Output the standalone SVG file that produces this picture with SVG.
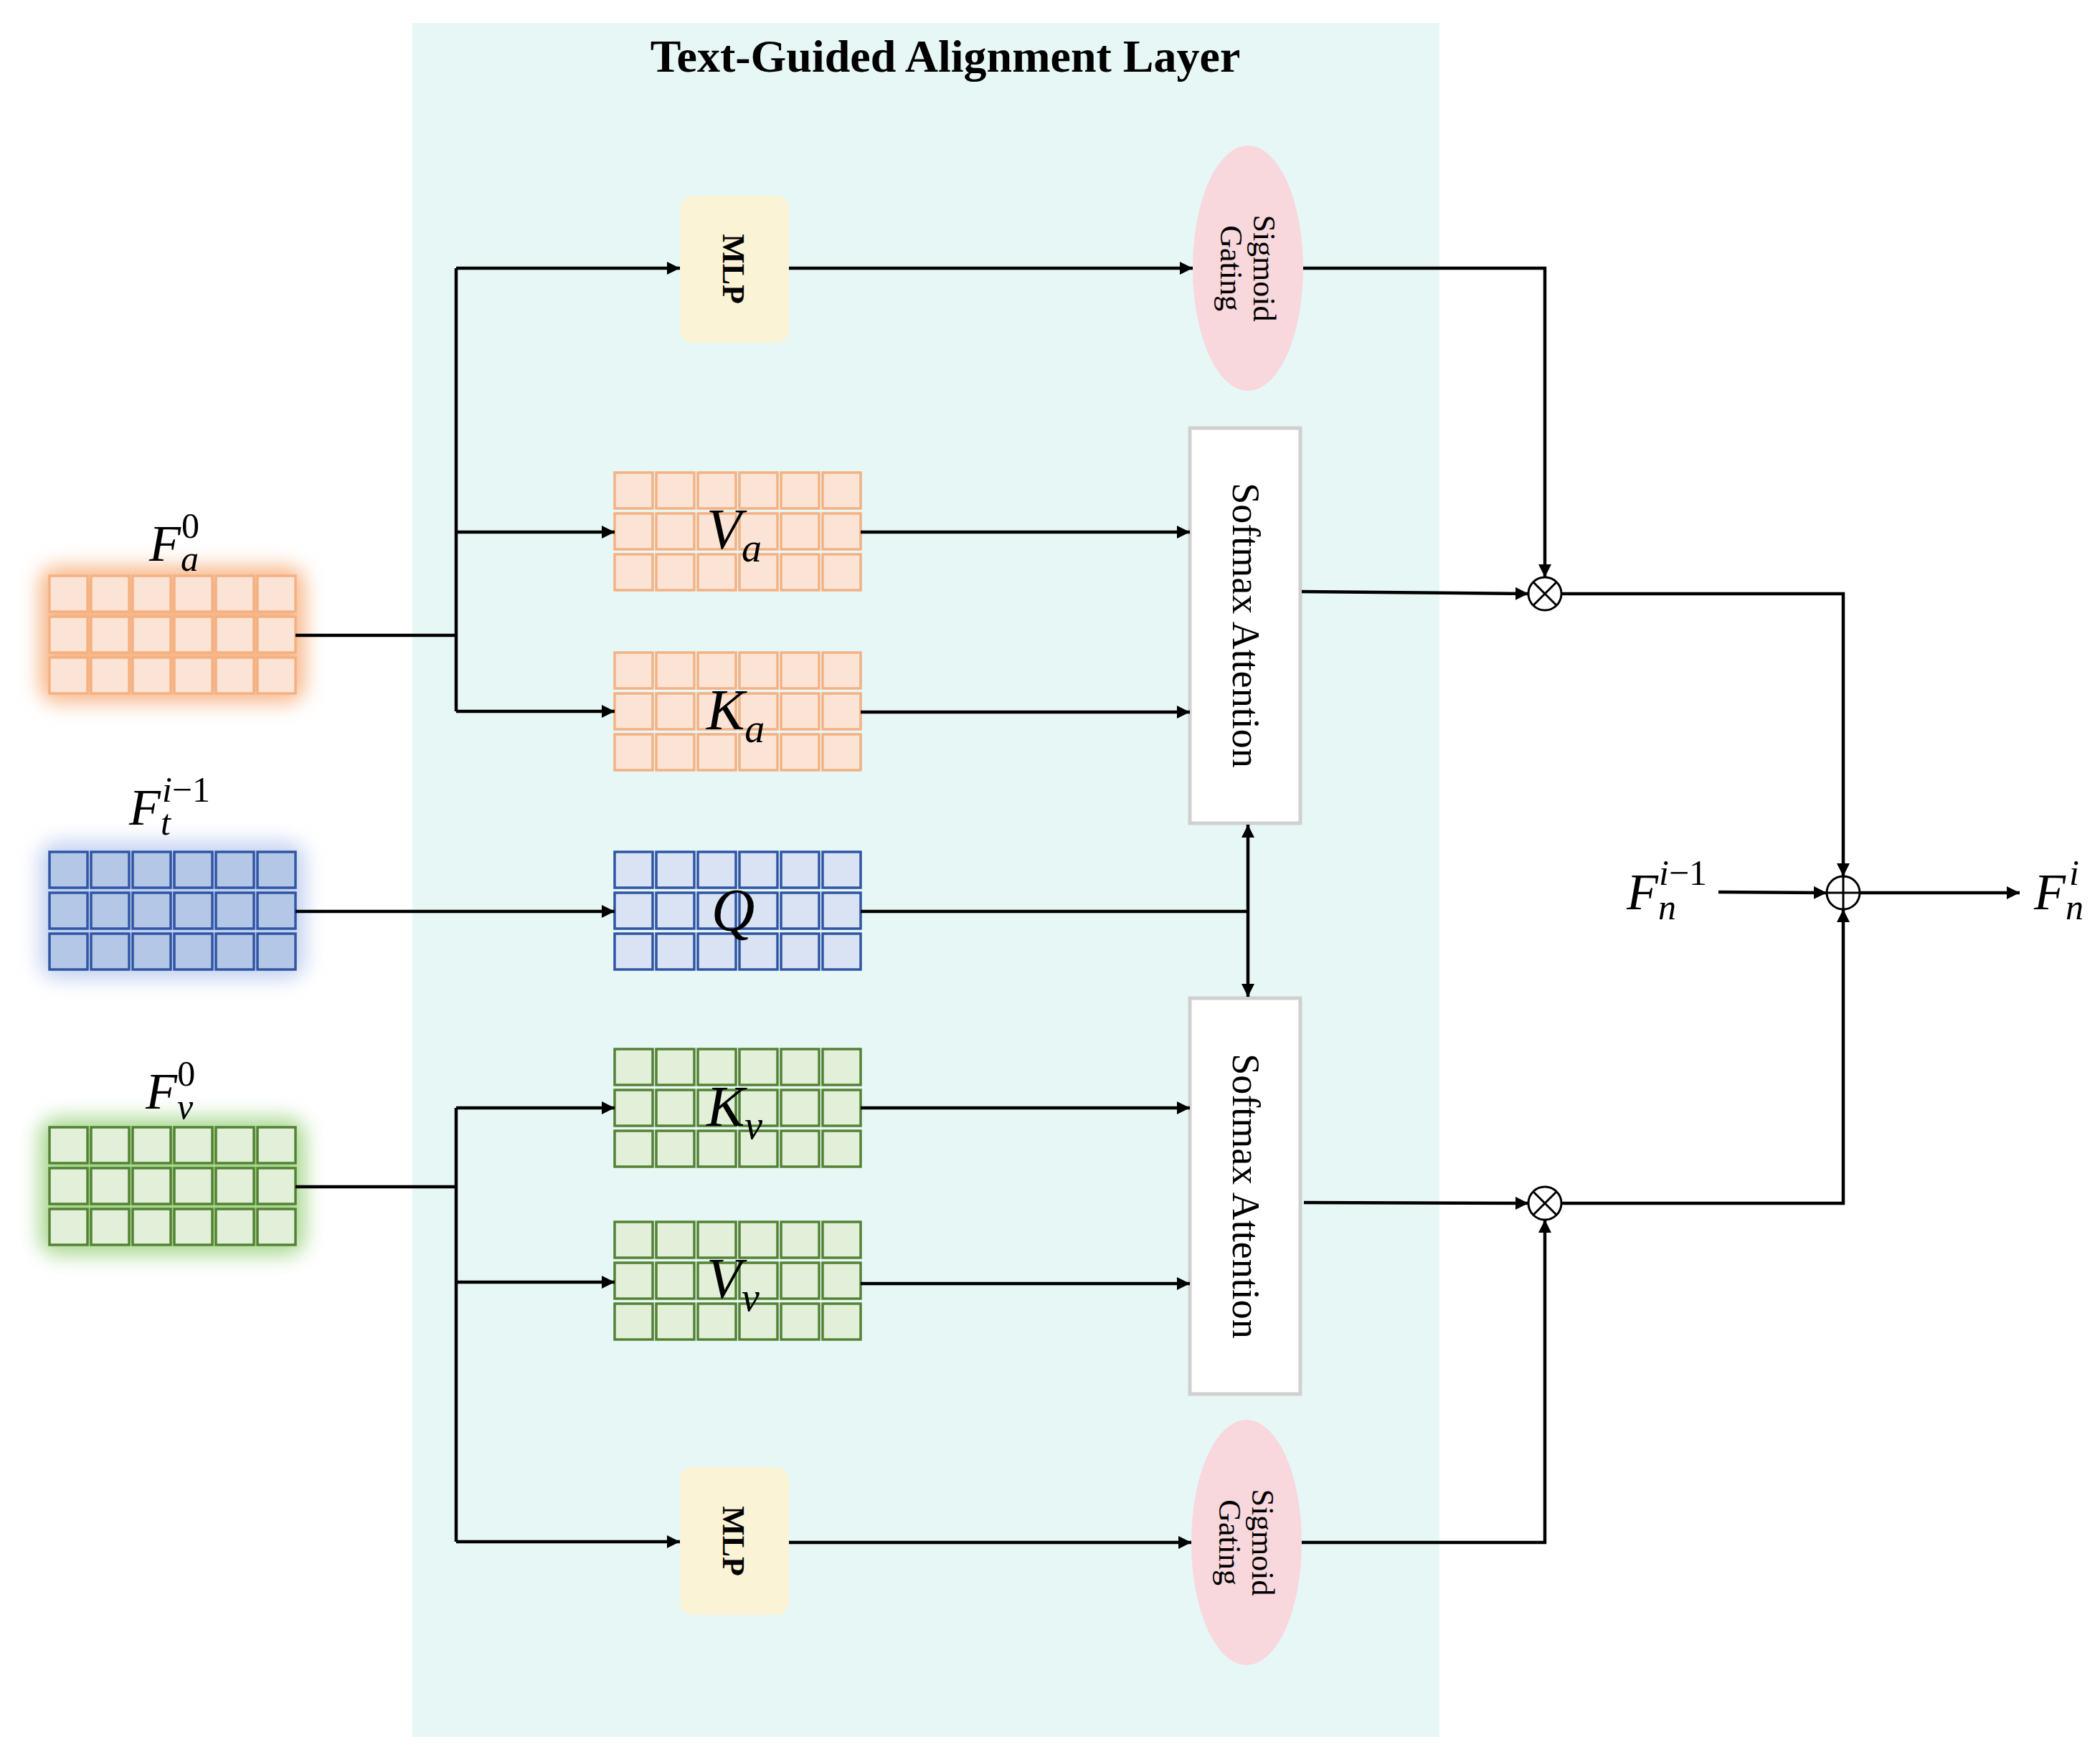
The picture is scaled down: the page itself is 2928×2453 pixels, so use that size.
<svg xmlns="http://www.w3.org/2000/svg" width="2928" height="2453" viewBox="0 0 2928 2453">
<style>
.ln{stroke:#000;stroke-width:4.5;fill:none}
.ar{marker-end:url(#ah)}
.m{font-family:"Liberation Serif",serif;font-style:italic;fill:#000}
.up{font-style:normal}
.lab{font-family:"Liberation Serif",serif;fill:#000}
.oc{fill:#FBE4D5;stroke:#F4B183;stroke-width:3.5}
.bc{fill:#B4C7E7;stroke:#2F55A4;stroke-width:3.5}
.bcl{fill:#DAE3F3;stroke:#2F55A4;stroke-width:3.5}
.gc{fill:#E2F0D9;stroke:#548235;stroke-width:3.5}
.mlp{fill:#FBF3D5}
.sg{fill:#F8D7DD}
.sm{fill:#fff;stroke:#D0D0D0;stroke-width:5}
</style>
<defs>
<marker id="ah" viewBox="0 0 10 10" refX="10" refY="5" markerWidth="4" markerHeight="4" orient="auto" markerUnits="strokeWidth"><path d="M0,0 L10,5 L0,10 z" fill="#000"/></marker>
<filter id="blur" x="-30%" y="-30%" width="160%" height="160%"><feGaussianBlur stdDeviation="14"/></filter>
</defs>
<rect width="2928" height="2453" fill="#fff"/>
<rect id="panel" x="575" y="32" width="1432" height="2390" fill="#E7F7F5"/>
<text x="1318" y="100" text-anchor="middle" class="lab" font-weight="bold" font-size="64">Text-Guided Alignment Layer</text>

<g id="glows">
<rect x="55" y="790" width="370" height="190" rx="25" fill="#F8B88A" filter="url(#blur)"/>
<rect x="55" y="1174" width="370" height="191" rx="25" fill="#C3D0F0" filter="url(#blur)"/>
<rect x="55" y="1559" width="370" height="191" rx="25" fill="#A8D890" filter="url(#blur)"/>
</g>

<g id="grid-Fa"><g class="oc">
<rect x="69" y="803" width="53" height="50"/><rect x="127" y="803" width="53" height="50"/><rect x="185" y="803" width="53" height="50"/><rect x="243" y="803" width="53" height="50"/><rect x="301" y="803" width="53" height="50"/><rect x="359" y="803" width="53" height="50"/>
<rect x="69" y="860" width="53" height="50"/><rect x="127" y="860" width="53" height="50"/><rect x="185" y="860" width="53" height="50"/><rect x="243" y="860" width="53" height="50"/><rect x="301" y="860" width="53" height="50"/><rect x="359" y="860" width="53" height="50"/>
<rect x="69" y="917" width="53" height="50"/><rect x="127" y="917" width="53" height="50"/><rect x="185" y="917" width="53" height="50"/><rect x="243" y="917" width="53" height="50"/><rect x="301" y="917" width="53" height="50"/><rect x="359" y="917" width="53" height="50"/>
</g><text x="208" y="782" class="m" font-size="72">F<tspan font-size="50" dy="14">a</tspan><tspan class="up" font-size="50" dx="-24" dy="-46">0</tspan></text></g>

<g id="grid-Ft"><g class="bc">
<rect x="69" y="1188" width="53" height="50"/><rect x="127" y="1188" width="53" height="50"/><rect x="185" y="1188" width="53" height="50"/><rect x="243" y="1188" width="53" height="50"/><rect x="301" y="1188" width="53" height="50"/><rect x="359" y="1188" width="53" height="50"/>
<rect x="69" y="1245" width="53" height="50"/><rect x="127" y="1245" width="53" height="50"/><rect x="185" y="1245" width="53" height="50"/><rect x="243" y="1245" width="53" height="50"/><rect x="301" y="1245" width="53" height="50"/><rect x="359" y="1245" width="53" height="50"/>
<rect x="69" y="1302" width="53" height="50"/><rect x="127" y="1302" width="53" height="50"/><rect x="185" y="1302" width="53" height="50"/><rect x="243" y="1302" width="53" height="50"/><rect x="301" y="1302" width="53" height="50"/><rect x="359" y="1302" width="53" height="50"/>
</g><text x="180" y="1150" class="m" font-size="72">F<tspan font-size="50" dy="14">t</tspan><tspan font-size="50" dx="-12" dy="-46">i<tspan class="up">−1</tspan></tspan></text></g>

<g id="grid-Fv"><g class="gc">
<rect x="69" y="1572" width="53" height="50"/><rect x="127" y="1572" width="53" height="50"/><rect x="185" y="1572" width="53" height="50"/><rect x="243" y="1572" width="53" height="50"/><rect x="301" y="1572" width="53" height="50"/><rect x="359" y="1572" width="53" height="50"/>
<rect x="69" y="1629" width="53" height="50"/><rect x="127" y="1629" width="53" height="50"/><rect x="185" y="1629" width="53" height="50"/><rect x="243" y="1629" width="53" height="50"/><rect x="301" y="1629" width="53" height="50"/><rect x="359" y="1629" width="53" height="50"/>
<rect x="69" y="1686" width="53" height="50"/><rect x="127" y="1686" width="53" height="50"/><rect x="185" y="1686" width="53" height="50"/><rect x="243" y="1686" width="53" height="50"/><rect x="301" y="1686" width="53" height="50"/><rect x="359" y="1686" width="53" height="50"/>
</g><text x="203" y="1546" class="m" font-size="72">F<tspan font-size="50" dy="14">v</tspan><tspan class="up" font-size="50" dx="-22" dy="-46">0</tspan></text></g>

<g id="grid-Va"><g class="oc">
<rect x="857" y="659" width="53" height="50"/><rect x="915" y="659" width="53" height="50"/><rect x="973" y="659" width="53" height="50"/><rect x="1031" y="659" width="53" height="50"/><rect x="1089" y="659" width="53" height="50"/><rect x="1147" y="659" width="53" height="50"/>
<rect x="857" y="716" width="53" height="50"/><rect x="915" y="716" width="53" height="50"/><rect x="973" y="716" width="53" height="50"/><rect x="1031" y="716" width="53" height="50"/><rect x="1089" y="716" width="53" height="50"/><rect x="1147" y="716" width="53" height="50"/>
<rect x="857" y="773" width="53" height="50"/><rect x="915" y="773" width="53" height="50"/><rect x="973" y="773" width="53" height="50"/><rect x="1031" y="773" width="53" height="50"/><rect x="1089" y="773" width="53" height="50"/><rect x="1147" y="773" width="53" height="50"/>
</g><text x="985" y="765" class="m" font-size="80">V<tspan font-size="56" dy="18">a</tspan></text></g>

<g id="grid-Ka"><g class="oc">
<rect x="857" y="910" width="53" height="50"/><rect x="915" y="910" width="53" height="50"/><rect x="973" y="910" width="53" height="50"/><rect x="1031" y="910" width="53" height="50"/><rect x="1089" y="910" width="53" height="50"/><rect x="1147" y="910" width="53" height="50"/>
<rect x="857" y="967" width="53" height="50"/><rect x="915" y="967" width="53" height="50"/><rect x="973" y="967" width="53" height="50"/><rect x="1031" y="967" width="53" height="50"/><rect x="1089" y="967" width="53" height="50"/><rect x="1147" y="967" width="53" height="50"/>
<rect x="857" y="1024" width="53" height="50"/><rect x="915" y="1024" width="53" height="50"/><rect x="973" y="1024" width="53" height="50"/><rect x="1031" y="1024" width="53" height="50"/><rect x="1089" y="1024" width="53" height="50"/><rect x="1147" y="1024" width="53" height="50"/>
</g><text x="985" y="1017" class="m" font-size="80">K<tspan font-size="56" dy="18">a</tspan></text></g>

<g id="grid-Q"><g class="bcl">
<rect x="857" y="1188" width="53" height="50"/><rect x="915" y="1188" width="53" height="50"/><rect x="973" y="1188" width="53" height="50"/><rect x="1031" y="1188" width="53" height="50"/><rect x="1089" y="1188" width="53" height="50"/><rect x="1147" y="1188" width="53" height="50"/>
<rect x="857" y="1245" width="53" height="50"/><rect x="915" y="1245" width="53" height="50"/><rect x="973" y="1245" width="53" height="50"/><rect x="1031" y="1245" width="53" height="50"/><rect x="1089" y="1245" width="53" height="50"/><rect x="1147" y="1245" width="53" height="50"/>
<rect x="857" y="1302" width="53" height="50"/><rect x="915" y="1302" width="53" height="50"/><rect x="973" y="1302" width="53" height="50"/><rect x="1031" y="1302" width="53" height="50"/><rect x="1089" y="1302" width="53" height="50"/><rect x="1147" y="1302" width="53" height="50"/>
</g><text x="1022" y="1298" class="m" font-size="84" text-anchor="middle">Q</text></g>

<g id="grid-Kv"><g class="gc">
<rect x="857" y="1463" width="53" height="50"/><rect x="915" y="1463" width="53" height="50"/><rect x="973" y="1463" width="53" height="50"/><rect x="1031" y="1463" width="53" height="50"/><rect x="1089" y="1463" width="53" height="50"/><rect x="1147" y="1463" width="53" height="50"/>
<rect x="857" y="1520" width="53" height="50"/><rect x="915" y="1520" width="53" height="50"/><rect x="973" y="1520" width="53" height="50"/><rect x="1031" y="1520" width="53" height="50"/><rect x="1089" y="1520" width="53" height="50"/><rect x="1147" y="1520" width="53" height="50"/>
<rect x="857" y="1577" width="53" height="50"/><rect x="915" y="1577" width="53" height="50"/><rect x="973" y="1577" width="53" height="50"/><rect x="1031" y="1577" width="53" height="50"/><rect x="1089" y="1577" width="53" height="50"/><rect x="1147" y="1577" width="53" height="50"/>
</g><text x="985" y="1570" class="m" font-size="80">K<tspan font-size="56" dy="18">v</tspan></text></g>

<g id="grid-Vv"><g class="gc">
<rect x="857" y="1704" width="53" height="50"/><rect x="915" y="1704" width="53" height="50"/><rect x="973" y="1704" width="53" height="50"/><rect x="1031" y="1704" width="53" height="50"/><rect x="1089" y="1704" width="53" height="50"/><rect x="1147" y="1704" width="53" height="50"/>
<rect x="857" y="1761" width="53" height="50"/><rect x="915" y="1761" width="53" height="50"/><rect x="973" y="1761" width="53" height="50"/><rect x="1031" y="1761" width="53" height="50"/><rect x="1089" y="1761" width="53" height="50"/><rect x="1147" y="1761" width="53" height="50"/>
<rect x="857" y="1818" width="53" height="50"/><rect x="915" y="1818" width="53" height="50"/><rect x="973" y="1818" width="53" height="50"/><rect x="1031" y="1818" width="53" height="50"/><rect x="1089" y="1818" width="53" height="50"/><rect x="1147" y="1818" width="53" height="50"/>
</g><text x="985" y="1810" class="m" font-size="80">V<tspan font-size="56" dy="18">v</tspan></text></g>

<g id="mlp-top"><rect x="948" y="273" width="152" height="205" rx="18" class="mlp"/><text transform="translate(1024,375) rotate(90)" text-anchor="middle" dy="16" class="lab" font-weight="bold" font-size="44">MLP</text></g>
<g id="mlp-bot"><rect x="948" y="2046" width="152" height="206" rx="18" class="mlp"/><text transform="translate(1024,2149) rotate(90)" text-anchor="middle" dy="16" class="lab" font-weight="bold" font-size="44">MLP</text></g>
<g id="sig-top"><ellipse cx="1740" cy="374" rx="77" ry="171" class="sg"/><text transform="translate(1740,374) rotate(90)" text-anchor="middle" class="lab" font-size="44"><tspan x="0" dy="-8">Sigmoid</tspan><tspan x="0" dy="46">Gating</tspan></text></g>
<g id="sig-bot"><ellipse cx="1738" cy="2151" rx="77" ry="171" class="sg"/><text transform="translate(1738,2151) rotate(90)" text-anchor="middle" class="lab" font-size="44"><tspan x="0" dy="-8">Sigmoid</tspan><tspan x="0" dy="46">Gating</tspan></text></g>
<g id="smx-top"><rect x="1659" y="597" width="154" height="551" class="sm"/><text transform="translate(1736,872) rotate(90)" text-anchor="middle" dy="17" class="lab" font-size="54">Softmax Attention</text></g>
<g id="smx-bot"><rect x="1659" y="1392" width="154" height="552" class="sm"/><text transform="translate(1736,1668) rotate(90)" text-anchor="middle" dy="17" class="lab" font-size="54">Softmax Attention</text></g>

<g id="ops" fill="#fff" stroke="#000" stroke-width="3">
<circle cx="2154" cy="828" r="23"/><path d="M2138,812 L2170,844 M2170,812 L2138,844"/>
<circle cx="2154" cy="1678" r="23"/><path d="M2138,1662 L2170,1694 M2170,1662 L2138,1694"/>
<circle cx="2570" cy="1245" r="23"/><path d="M2547,1245 H2593 M2570,1222 V1268"/>
</g>
<text x="2268" y="1268" class="m" font-size="72">F<tspan font-size="50" dy="14">n</tspan><tspan font-size="50" dx="-24" dy="-48">i<tspan class="up">−1</tspan></tspan></text>
<text x="2836" y="1268" class="m" font-size="72">F<tspan font-size="50" dy="14">n</tspan><tspan font-size="50" dx="-20" dy="-48">i</tspan></text>

<g id="connectors">
<path class="ln" d="M412,886 H636"/>
<path class="ln" d="M636,374 V992"/>
<path class="ln ar" d="M636,374 H948"/>
<path class="ln ar" d="M636,742 H857"/>
<path class="ln ar" d="M636,992 H857"/>
<path class="ln" d="M412,1655 H636"/>
<path class="ln" d="M636,1545 V2150"/>
<path class="ln ar" d="M636,1545 H857"/>
<path class="ln ar" d="M636,1788 H857"/>
<path class="ln ar" d="M636,2150 H948"/>
<path class="ln ar" d="M412,1271 H857"/>
<path class="ln" d="M1200,1271 H1740"/>
<path class="ln ar" d="M1740,1271 V1150"/>
<path class="ln ar" d="M1740,1271 V1390"/>
<path class="ln ar" d="M1200,742 H1659"/>
<path class="ln ar" d="M1200,993 H1659"/>
<path class="ln ar" d="M1200,1545 H1659"/>
<path class="ln ar" d="M1200,1790 H1659"/>
<path class="ln ar" d="M1100,374 H1663"/>
<path class="ln ar" d="M1100,2151 H1661"/>
<path class="ln ar" d="M1817,374 H2154 V805"/>
<path class="ln ar" d="M1815,2151 H2154 V1701"/>
<path class="ln ar" d="M1815,825 L2131,828"/>
<path class="ln ar" d="M1818,1677 L2131,1678"/>
<path class="ln ar" d="M2177,828 H2570 V1222"/>
<path class="ln ar" d="M2177,1678 H2570 V1268"/>
<path class="ln ar" d="M2396,1244 L2547,1245"/>
<path class="ln ar" d="M2593,1245 H2816"/>
</g>
</svg>
